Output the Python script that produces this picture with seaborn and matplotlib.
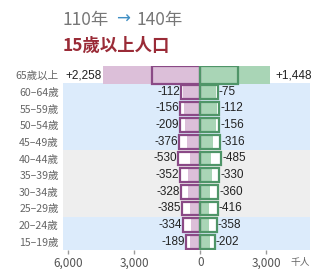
import matplotlib
matplotlib.use("Agg")
import matplotlib.pyplot as plt
import seaborn as sns
import numpy as np

# ---- data (thousand persons) ----
ages = ["65歲以上", "60–64歲", "55–59歲", "50–54歲", "45–49歲", "40–44歲",
        "35–39歲", "30–34歲", "25–29歲", "20–24歲", "15–19歲"]
left_110 = [2190, 880, 910, 910, 960, 1015, 915, 870, 835, 775, 655]
left_change = [2258, -112, -156, -209, -376, -530, -352, -328, -385, -334, -189]
right_110 = [1735, 810, 865, 865, 910, 960, 865, 820, 810, 765, 655]
right_change = [1448, -75, -112, -156, -316, -485, -330, -360, -416, -358, -202]
xticks = [-6000, -3000, 0, 3000]
xticklabels = ["6,000", "3,000", "0", "3,000"]

left_110 = np.array(left_110)
right_110 = np.array(right_110)
left_140 = left_110 + np.array(left_change)
right_140 = right_110 + np.array(right_change)

sns.set_theme(style="white")
plt.rcParams["font.family"] = ["Noto Sans CJK TC", "DejaVu Sans"]

W, H = 321, 269
fig = plt.figure(figsize=(W / 100, H / 100), dpi=100)
ax = fig.add_axes([63 / W, (H - 250) / H, (310 - 63) / W, (250 - 66) / H])

purple = "#8a4a86"
pink = "#dcbfd9"
green_edge = "#4f9568"
green = "#a9d5b6"
blue_band = "#dcebfb"
gray_band = "#eeeeee"

bw = 0.82
# backgrounds (white faces for 110 outlines)
sns.barplot(x=-left_110, y=ages, orient="h", color="white", saturation=1,
            width=bw, errorbar=None, linewidth=0, ax=ax)
sns.barplot(x=right_110, y=ages, orient="h", color="white", saturation=1,
            width=bw, errorbar=None, linewidth=0, ax=ax)
# 140 filled bars
sns.barplot(x=-left_140, y=ages, orient="h", color=pink, saturation=1,
            width=bw, errorbar=None, linewidth=0, ax=ax)
sns.barplot(x=right_140, y=ages, orient="h", color=green, saturation=1,
            width=bw, errorbar=None, linewidth=0, ax=ax)
# 110 outlines
sns.barplot(x=-left_110, y=ages, orient="h", color=purple, fill=False,
            width=bw, errorbar=None, linewidth=1.6, ax=ax)
sns.barplot(x=right_110, y=ages, orient="h", color=green_edge, fill=False,
            width=bw, errorbar=None, linewidth=1.6, ax=ax)

# make the 65+ row a bit taller
for p in ax.patches:
    cy = p.get_y() + p.get_height() / 2
    if abs(cy) < 0.01:
        h = 1.08
        p.set_y(cy - h / 2)
        p.set_height(h)

# background bands
ax.axhspan(0.5, 4.5, color=blue_band, zorder=0, lw=0)
ax.axhspan(4.5, 8.5, color=gray_band, zorder=0, lw=0)
ax.axhspan(8.5, 10.6, color=blue_band, zorder=0, lw=0)

ax.set_xlim(-6250, 5000)
ax.set_ylim(10.5, -0.55)

# value labels
for i in range(len(ages)):
    lc = left_change[i]
    rc = right_change[i]
    ltxt = f"{lc:+,}" if lc > 0 else f"{lc:,}"
    rtxt = f"{rc:+,}" if rc > 0 else f"{rc:,}"
    lx = -max(left_110[i], left_140[i])
    rx = max(right_110[i], right_140[i])
    ax.text(lx - 40, i, ltxt, ha="right", va="center", fontsize=8.5,
            family=["Liberation Sans"], color="#222222", zorder=5)
    ax.text(rx + (250 if rc > 0 else 40), i, rtxt, ha="left", va="center",
            fontsize=8.5, family=["Liberation Sans"], color="#222222", zorder=5)

for s in ax.spines.values():
    s.set_visible(False)
ax.set_xlabel("")
ax.set_ylabel("")
ax.set_xticks(xticks)
ax.set_xticklabels(xticklabels)
ax.tick_params(axis="x", length=3, width=1, color="#999999", pad=1.5,
               labelsize=8.5, labelcolor="#555555", bottom=True, direction="out")
ax.tick_params(axis="y", length=0, pad=3, labelsize=7.6, labelcolor="#666666")
ax.grid(False)

fig.text(300 / W, 1 - 262 / H, "千人", fontsize=7, color="#666666",
         ha="center", va="center")

# titles
fig.text(63 / W, 1 - 20 / H, "110年", fontsize=12.5, color="#777777",
         ha="left", va="center")
fig.text(123 / W, 1 - 19 / H, "→", fontsize=12, color="#3f8fc4",
         ha="center", va="center", family=["DejaVu Sans"])
fig.text(137 / W, 1 - 20 / H, "140年", fontsize=12.5, color="#777777",
         ha="left", va="center")
fig.text(63 / W, 1 - 46 / H, "15歲以上人口", fontsize=12.5, color="#9a2b37",
         ha="left", va="center", fontweight="bold")

fig.savefig("out.png", dpi=100)
